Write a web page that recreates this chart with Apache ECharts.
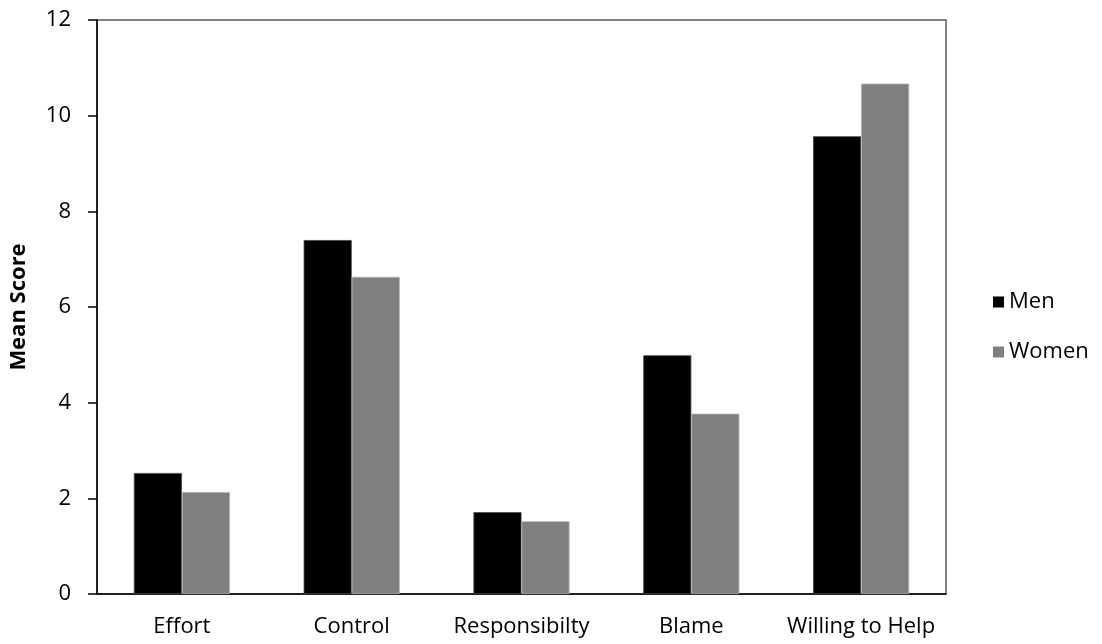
<!DOCTYPE html>
<html>
<head>
<meta charset="utf-8">
<script src="https://cdn.jsdelivr.net/npm/echarts@6/dist/echarts.min.js"></script>
<style>html,body{margin:0;padding:0;background:#fff;}#c{width:1102px;height:644px;}</style>
</head>
<body>
<div id="c"></div>
<script>
const categories = ['Effort', 'Control', 'Responsibilty', 'Blame', 'Willing to Help'];
const men = [2.53, 7.40, 1.71, 4.99, 9.57];
const women = [2.13, 6.63, 1.52, 3.77, 10.67];
const yTicks = [0, 2, 4, 6, 8, 10, 12];

const FONT = '"Open Sans", sans-serif';
const chart = echarts.init(document.getElementById('c'), null, {renderer: 'canvas'});
chart.setOption({
  animation: false,
  backgroundColor: '#fff',
  grid: {left: 97, right: 156, top: 20, bottom: 50, show: true, borderColor: '#595959', borderWidth: 1.5, backgroundColor: 'transparent'},
  legend: {
    orient: 'vertical', left: 988, top: 286, itemWidth: 11, itemHeight: 11, itemGap: 28,
    itemStyle: {borderWidth: 0},
    textStyle: {fontFamily: FONT, fontSize: 22, color: '#000', padding: [0,0,0,0]},
    data: [{name: 'Men', icon: 'rect'}, {name: 'Women', icon: 'rect'}]
  },
  xAxis: {
    type: 'category', data: categories,
    axisLine: {lineStyle: {color: '#000', width: 1.5}},
    axisTick: {show: false},
    axisLabel: {fontFamily: FONT, fontSize: 22, color: '#000', margin: 22, interval: 0}
  },
  yAxis: {
    type: 'value', min: yTicks[0], max: yTicks[yTicks.length - 1], interval: 2,
    name: 'Mean Score', nameLocation: 'middle', nameGap: 67, nameRotate: 90,
    nameTextStyle: {fontFamily: FONT, fontSize: 22, fontWeight: 'bold', color: '#000'},
    axisLine: {show: true, lineStyle: {color: '#000', width: 1.5}},
    axisTick: {show: true, length: 9, lineStyle: {color: '#000', width: 1.5}},
    splitLine: {show: false},
    axisLabel: {fontFamily: FONT, fontSize: 22, color: '#000', margin: 26}
  },
  series: [
    {name: 'Men', type: 'bar', data: men, barWidth: '28.3%', barGap: '0%',
     itemStyle: {color: '#000', borderColor: '#444', borderWidth: 0.8}},
    {name: 'Women', type: 'bar', data: women, barWidth: '28.3%',
     itemStyle: {color: '#808080', borderColor: '#b0b0b0', borderWidth: 0.8}}
  ]
});
</script>
</body>
</html>
